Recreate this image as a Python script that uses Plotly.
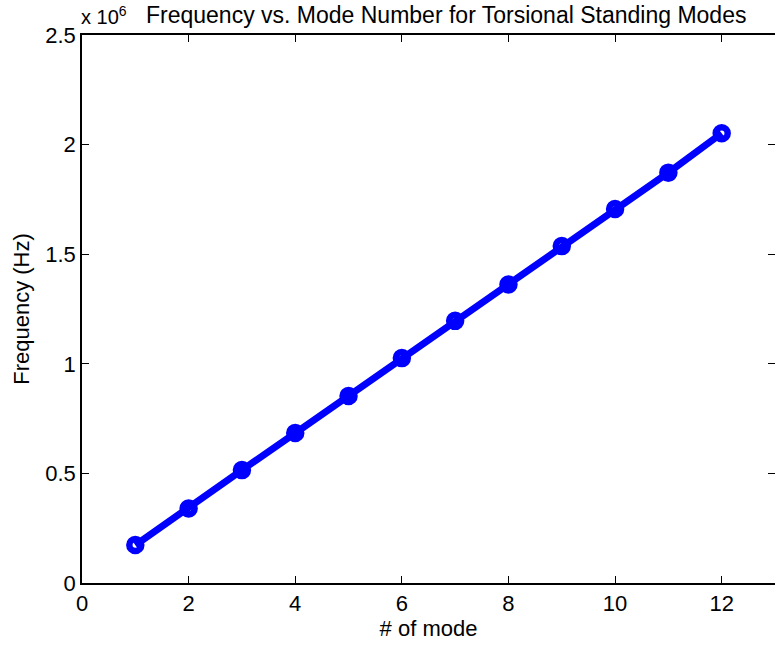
import plotly.graph_objects as go

modes = [1, 2, 3, 4, 5, 6, 7, 8, 9, 10, 11, 12]
freq_hz = [173000, 340000, 515000, 684000, 853000, 1026000,
           1196000, 1362000, 1537000, 1706000, 1872000, 2052000]
y_tick_vals = [0, 500000, 1000000, 1500000, 2000000, 2500000]
y_tick_text = ["0", "0.5", "1", "1.5", "2", "2.5"]
x_tick_vals = [0, 2, 4, 6, 8, 10, 12]

FONT = "Liberation Sans, Arial, Helvetica, sans-serif"
BLUE = "#0000FF"
FS = 22

fig = go.Figure()
# markers (open circles) underneath
fig.add_trace(go.Scatter(
    x=modes, y=freq_hz, mode="markers",
    marker=dict(symbol="circle-open", size=12, color=BLUE,
                line=dict(width=6.5, color=BLUE)),
    showlegend=False, hoverinfo="skip"))
# line drawn on top
fig.add_trace(go.Scatter(
    x=modes, y=freq_hz, mode="lines",
    line=dict(color=BLUE, width=7),
    showlegend=False))
# invisible trace for right-side mirrored ticks
fig.add_trace(go.Scatter(x=[None], y=[None], yaxis="y2", showlegend=False,
                         hoverinfo="skip"))

axis_common = dict(
    ticks="inside", ticklen=7, tickwidth=1, tickcolor="black",
    showgrid=False, zeroline=False,
    tickfont=dict(family=FONT, size=FS, color="black"),
)

fig.update_layout(
    width=775, height=645,
    margin=dict(l=82, r=0, t=35, b=62),
    plot_bgcolor="white", paper_bgcolor="white",
    font=dict(family=FONT, size=FS, color="black"),
    xaxis=dict(range=[0, 13], tickvals=x_tick_vals,
               showline=True, linecolor="black", linewidth=1.5,
               mirror="ticks",
               title=dict(text="# of mode", font=dict(family=FONT, size=FS), standoff=2),
               **axis_common),
    yaxis=dict(range=[0, 2500000], tickvals=y_tick_vals, ticktext=y_tick_text,
               showline=True, linecolor="black", linewidth=1.5,
               title=dict(text="Frequency (Hz)", font=dict(family=FONT, size=FS), standoff=10),
               **axis_common),
    yaxis2=dict(range=[0, 2500000], tickvals=y_tick_vals, overlaying="y",
                side="right", showticklabels=False, showline=False,
                ticks="inside", ticklen=7, tickwidth=1, tickcolor="black",
                showgrid=False, zeroline=False),
    annotations=[
        dict(text="Frequency vs. Mode Number for Torsional Standing Modes",
             xref="paper", yref="paper", x=(446 - 82) / 693, y=1,
             xanchor="center", yanchor="bottom", yshift=5, showarrow=False,
             font=dict(family=FONT, size=23, color="black")),
        dict(text="x 10<sup>6</sup>",
             xref="paper", yref="paper", x=0, y=1,
             xanchor="left", yanchor="bottom", yshift=5, xshift=-3, showarrow=False,
             font=dict(family=FONT, size=20, color="black")),
    ],
)

fig.write_html("out.html")
